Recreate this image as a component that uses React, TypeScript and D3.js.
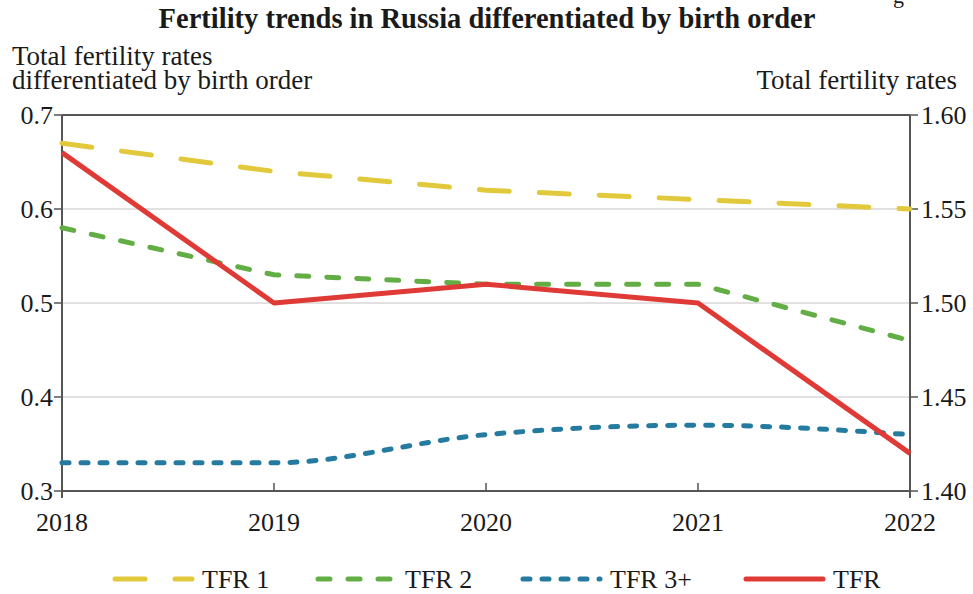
import React from 'react';
import * as d3 from 'd3';

const years = [2018, 2019, 2020, 2021, 2022];
const tfr1 = [0.67, 0.64, 0.62, 0.61, 0.6];
const tfr2 = [0.58, 0.53, 0.52, 0.52, 0.46];
const tfr3 = [0.33, 0.33, 0.36, 0.37, 0.36];
const tfr = [1.58, 1.5, 1.51, 1.5, 1.42];
const leftTicks = [0.3, 0.4, 0.5, 0.6, 0.7];
const rightTicks = [1.4, 1.45, 1.5, 1.55, 1.6];

const W = 973;
const H = 594;
const FONT = "'Liberation Serif', 'DejaVu Serif', serif";

const margin = { left: 62, right: 63, top: 115, bottom: 103 };

const txt = { fontFamily: FONT, fill: '#1a1a1a' };

export default function App() {
  const x = d3.scalePoint<number>().domain(years).range([margin.left, W - margin.right]);
  const yL = d3.scaleLinear().domain([0.3, 0.7]).range([H - margin.bottom, margin.top]);
  const yR = d3.scaleLinear().domain([1.4, 1.6]).range([H - margin.bottom, margin.top]);

  const lineL = d3.line<number>().x((_, i) => x(years[i])!).y((d) => yL(d));
  const curveL = d3
    .line<number>()
    .x((_, i) => x(years[i])!)
    .y((d) => yL(d))
    .curve(d3.curveMonotoneX);
  const lineR = d3.line<number>().x((_, i) => x(years[i])!).y((d) => yR(d));

  const x0 = x(years[0])!;
  const x1 = x(years[years.length - 1])!;
  const yTop = yL(0.7);
  const yBot = yL(0.3);
  const axisColor = '#555';

  const series = [
    { name: 'TFR 1', color: '#e2c93b', dash: '30 30', d: lineL(tfr1), lx: 112 },
    { name: 'TFR 2', color: '#63ad45', dash: '12 18', d: lineL(tfr2), lx: 315 },
    { name: 'TFR 3+', color: '#257b9f', dash: '7 12', d: curveL(tfr3), lx: 520 },
    { name: 'TFR', color: '#e03a37', dash: undefined, d: lineR(tfr), lx: 743 },
  ];

  return (
    <svg width={W} height={H} style={{ position: 'absolute', left: 0, top: 0, background: '#fff' }}>
      <text x={893} y={3} fontSize={22} style={txt}>g</text>
      <text x={487} y={28} textAnchor="middle" fontSize={28.5} fontWeight="bold" style={txt}>
        Fertility trends in Russia differentiated by birth order
      </text>
      <text x={12} y={65} fontSize={27} style={txt}>
        <tspan x={12} y={65}>Total fertility rates</tspan>
        <tspan x={12} y={89}>differentiated by birth order</tspan>
      </text>
      <text x={957} y={89} textAnchor="end" fontSize={27} style={txt}>Total fertility rates</text>

      {/* gridlines */}
      {leftTicks.slice(1, -1).map((t) => (
        <line key={t} x1={x0} x2={x1} y1={yL(t)} y2={yL(t)} stroke="#c4c4c4" strokeWidth={1} />
      ))}

      {/* frame */}
      <line x1={x0} x2={x1} y1={yTop} y2={yTop} stroke={axisColor} strokeWidth={2} />
      <line x1={x0} x2={x1} y1={yBot} y2={yBot} stroke={axisColor} strokeWidth={2} />
      <line x1={x0} x2={x0} y1={yTop} y2={yBot + 7} stroke={axisColor} strokeWidth={2} />
      <line x1={x1} x2={x1} y1={yTop} y2={yBot + 7} stroke={axisColor} strokeWidth={2} />

      {/* left ticks */}
      {leftTicks.map((t) => (
        <g key={t}>
          <line x1={x0 - 8} x2={x0} y1={yL(t)} y2={yL(t)} stroke={axisColor} strokeWidth={1.5} />
          <text x={x0 - 9} y={yL(t)} dy="0.35em" textAnchor="end" fontSize={26} style={txt}>
            {d3.format('.1f')(t)}
          </text>
        </g>
      ))}
      {/* right ticks */}
      {rightTicks.map((t) => (
        <g key={t}>
          <line x1={x1} x2={x1 + 8} y1={yR(t)} y2={yR(t)} stroke={axisColor} strokeWidth={1.5} />
          <text x={x1 + 11} y={yR(t)} dy="0.35em" textAnchor="start" fontSize={26} style={txt}>
            {d3.format('.2f')(t)}
          </text>
        </g>
      ))}
      {/* bottom ticks */}
      {years.map((yr) => (
        <g key={yr}>
          <line x1={x(yr)} x2={x(yr)} y1={yBot - 8} y2={yBot} stroke={axisColor} strokeWidth={1.5} />
          <text x={x(yr)} y={yBot + 40} textAnchor="middle" fontSize={26} style={txt}>
            {yr}
          </text>
        </g>
      ))}

      {/* series */}
      {series.map((s) => (
        <path
          key={s.name}
          d={s.d ?? ''}
          fill="none"
          stroke={s.color}
          strokeWidth={5}
          strokeDasharray={s.dash}
          strokeLinecap={s.dash ? 'round' : 'butt'}
          strokeLinejoin="round"
        />
      ))}

      {/* legend */}
      {series.map((s) => (
        <g key={s.name + '-leg'}>
          <line
            x1={s.lx + 3}
            x2={s.lx + 80}
            y1={579}
            y2={579}
            stroke={s.color}
            strokeWidth={5}
            strokeDasharray={s.dash}
            strokeLinecap="round"
          />
          <text x={s.lx + 90} y={579} dy="0.35em" fontSize={26} style={txt}>
            {s.name}
          </text>
        </g>
      ))}
    </svg>
  );
}
